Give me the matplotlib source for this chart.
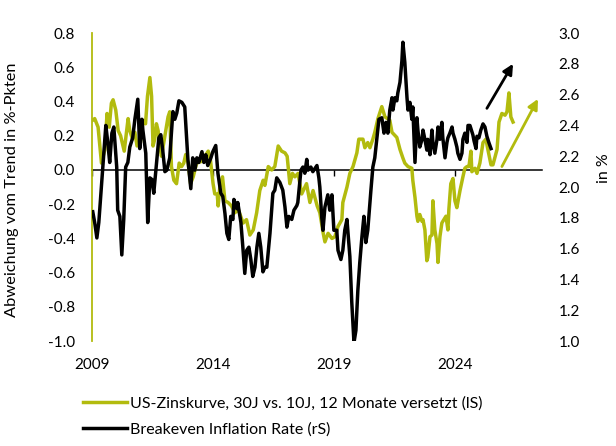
import matplotlib
matplotlib.use('Agg')
import matplotlib.pyplot as plt
from matplotlib.ticker import FormatStrFormatter

plt.rcParams['font.family'] = ['Lato', 'DejaVu Sans']

GREEN = '#B2BB0E'

# --- data ---------------------------------------------------------------
green_label = 'US-Zinskurve, 30J vs. 10J, 12 Monate versetzt (lS)'
black_label = 'Breakeven Inflation Rate (rS)'

green_dates = [
    2009.03, 2009.12, 2009.26, 2009.40, 2009.54, 2009.63, 2009.72, 2009.81, 2009.88, 2009.99,
    2010.09, 2010.19, 2010.34, 2010.43, 2010.50, 2010.57, 2010.68, 2010.78, 2010.87, 2011.01,
    2011.12, 2011.22, 2011.30, 2011.40, 2011.47, 2011.53, 2011.60, 2011.67, 2011.74, 2011.81,
    2011.88, 2012.02, 2012.15, 2012.22, 2012.29, 2012.39, 2012.50, 2012.61, 2012.71, 2012.80,
    2012.88, 2012.98, 2013.08, 2013.19, 2013.33, 2013.53, 2013.67, 2013.81, 2013.90, 2014.01,
    2014.08, 2014.18, 2014.22, 2014.29, 2014.40, 2014.50, 2014.63, 2014.77, 2014.91, 2015.05,
    2015.25, 2015.39, 2015.53, 2015.67, 2015.81, 2015.94, 2016.08, 2016.15, 2016.29, 2016.43,
    2016.56, 2016.70, 2016.84, 2016.98, 2017.07, 2017.18, 2017.29, 2017.39, 2017.52, 2017.67,
    2017.87, 2018.01, 2018.14, 2018.31, 2018.42, 2018.56, 2018.63, 2018.76, 2018.92, 2019.04,
    2019.17, 2019.33, 2019.37, 2019.54, 2019.66, 2019.79, 2019.95, 2020.03, 2020.20, 2020.28,
    2020.40, 2020.49, 2020.61, 2020.69, 2020.82, 2020.98, 2021.11, 2021.31, 2021.40, 2021.60,
    2021.73, 2021.85, 2021.93, 2022.06, 2022.22, 2022.26, 2022.35, 2022.43, 2022.47, 2022.55,
    2022.64, 2022.68, 2022.76, 2022.84, 2022.88, 2022.97, 2023.05, 2023.09, 2023.17, 2023.26,
    2023.30, 2023.38, 2023.46, 2023.50, 2023.63, 2023.71, 2023.75, 2023.83, 2023.92, 2024.00,
    2024.08, 2024.21, 2024.33, 2024.41, 2024.50, 2024.58, 2024.66, 2024.70, 2024.83, 2024.91,
    2025.03, 2025.16, 2025.28, 2025.36, 2025.49, 2025.57, 2025.74, 2025.82, 2025.94, 2026.07,
    2026.15, 2026.23, 2026.31, 2026.40,
]
green_values = [
    0.29, 0.30, 0.25, 0.04, 0.12, 0.33, 0.25, 0.39, 0.41, 0.35,
    0.23, 0.20, 0.11, 0.22, 0.30, 0.23, 0.18, 0.22, 0.14, 0.16,
    0.29, 0.27, 0.43, 0.54, 0.43, 0.14, 0.18, 0.27, 0.23, 0.14,
    0.08, 0.20, 0.31, 0.34, 0.02, -0.06, -0.08, 0.04, 0.02, 0.04,
    0.09, 0.04, -0.08, -0.04, 0.04, 0.05, 0.08, 0.11, 0.06, -0.08,
    -0.14, -0.14, -0.21, -0.10, -0.04, -0.18, -0.19, -0.21, -0.25, -0.23,
    -0.31, -0.29, -0.38, -0.35, -0.25, -0.12, -0.06, -0.09, 0.02, 0.00,
    0.02, 0.14, 0.11, 0.10, 0.08, -0.08, -0.02, -0.04, -0.02, -0.14,
    -0.08, -0.19, -0.12, -0.21, -0.25, -0.37, -0.42, -0.37, -0.40, -0.39,
    -0.33, -0.29, -0.19, -0.10, -0.02, 0.02, 0.10, 0.18, 0.18, 0.13,
    0.16, 0.13, 0.18, 0.22, 0.30, 0.37, 0.31, 0.29, 0.22, 0.19,
    0.12, 0.07, 0.04, 0.02, 0.01, -0.06, -0.16, -0.27, -0.30, -0.26,
    -0.30, -0.29, -0.35, -0.53, -0.51, -0.39, -0.38, -0.18, -0.35, -0.43,
    -0.54, -0.39, -0.31, -0.30, -0.27, -0.35, -0.23, -0.08, -0.05, -0.18,
    -0.22, -0.12, -0.04, 0.01, 0.02, 0.02, 0.11, -0.01, 0.01, -0.02,
    0.04, 0.16, 0.18, 0.12, 0.03, 0.03, 0.12, 0.28, 0.33, 0.32,
    0.34, 0.45, 0.31, 0.28,
]

black_dates = [
    2009.04, 2009.12, 2009.21, 2009.29, 2009.41, 2009.50, 2009.58, 2009.66, 2009.74, 2009.83,
    2009.91, 2010.03, 2010.07, 2010.16, 2010.24, 2010.32, 2010.40, 2010.49, 2010.57, 2010.69,
    2010.78, 2010.90, 2010.98, 2011.07, 2011.11, 2011.23, 2011.31, 2011.40, 2011.48, 2011.56,
    2011.69, 2011.77, 2011.85, 2011.93, 2012.02, 2012.10, 2012.22, 2012.35, 2012.43, 2012.51,
    2012.60, 2012.72, 2012.84, 2012.97, 2013.09, 2013.17, 2013.26, 2013.34, 2013.42, 2013.55,
    2013.63, 2013.71, 2013.79, 2013.92, 2014.00, 2014.12, 2014.21, 2014.33, 2014.41, 2014.50,
    2014.58, 2014.66, 2014.74, 2014.83, 2014.87, 2014.99, 2015.03, 2015.16, 2015.24, 2015.32,
    2015.40, 2015.49, 2015.57, 2015.65, 2015.74, 2015.82, 2015.90, 2015.98, 2016.07, 2016.15,
    2016.23, 2016.36, 2016.48, 2016.56, 2016.64, 2016.77, 2016.89, 2016.98, 2017.06, 2017.14,
    2017.26, 2017.35, 2017.47, 2017.51, 2017.64, 2017.72, 2017.80, 2017.88, 2017.93, 2018.05,
    2018.13, 2018.30, 2018.38, 2018.42, 2018.50, 2018.55, 2018.63, 2018.75, 2018.83, 2018.92,
    2019.00, 2019.12, 2019.17, 2019.29, 2019.37, 2019.45, 2019.54, 2019.66, 2019.74, 2019.83,
    2019.91, 2019.99, 2020.07, 2020.16, 2020.24, 2020.32, 2020.40, 2020.53, 2020.61, 2020.69,
    2020.78, 2020.86, 2020.98, 2021.07, 2021.15, 2021.23, 2021.31, 2021.40, 2021.44, 2021.52,
    2021.60, 2021.64, 2021.73, 2021.81, 2021.85, 2021.93, 2022.02, 2022.06, 2022.14, 2022.22,
    2022.26, 2022.35, 2022.43, 2022.47, 2022.55, 2022.64, 2022.68, 2022.76, 2022.84, 2022.88,
    2022.97, 2023.05, 2023.09, 2023.17, 2023.26, 2023.30, 2023.38, 2023.46, 2023.50, 2023.59,
    2023.67, 2023.71, 2023.79, 2023.88, 2023.92, 2024.00, 2024.08, 2024.12, 2024.21, 2024.29,
    2024.33, 2024.41, 2024.50, 2024.54, 2024.62, 2024.74, 2024.79, 2024.87, 2024.91, 2024.99,
    2025.07, 2025.16, 2025.24, 2025.32, 2025.40, 2025.49,
]
black_values = [
    1.84, 1.77, 1.67, 1.77, 2.03, 2.22, 2.40, 2.29, 2.16, 2.35,
    2.39, 2.13, 1.85, 1.81, 1.56, 1.79, 2.13, 2.16, 2.26, 2.32,
    2.44, 2.57, 2.25, 2.44, 2.37, 2.22, 1.77, 2.06, 2.05, 1.96,
    2.18, 2.32, 2.34, 2.24, 2.10, 2.11, 2.19, 2.49, 2.44, 2.48,
    2.56, 2.55, 2.52, 2.18, 1.99, 2.19, 2.11, 2.19, 2.16, 2.23,
    2.16, 2.21, 2.14, 2.19, 2.23, 2.27, 2.09, 1.96, 1.94, 1.83,
    1.70, 1.66, 1.81, 1.79, 1.92, 1.86, 1.90, 1.77, 1.61, 1.44,
    1.59, 1.61, 1.53, 1.42, 1.48, 1.61, 1.70, 1.61, 1.45, 1.48,
    1.48, 1.70, 1.96, 1.98, 2.06, 2.03, 1.98, 1.87, 1.74, 1.81,
    1.79, 1.85, 1.88, 1.90, 2.11, 2.13, 2.09, 2.18, 2.11, 2.13,
    2.10, 2.14, 2.06, 2.00, 1.80, 1.72, 1.87, 1.95, 1.85, 1.95,
    1.72, 1.72, 1.59, 1.53, 1.59, 1.72, 1.79, 1.55, 1.25, 0.99,
    1.07, 1.33, 1.51, 1.68, 1.81, 1.64, 1.72, 1.98, 2.13, 2.19,
    2.32, 2.44, 2.45, 2.35, 2.42, 2.35, 2.50, 2.58, 2.50, 2.58,
    2.56, 2.61, 2.68, 2.82, 2.94, 2.81, 2.58, 2.50, 2.55, 2.44,
    2.52, 2.16, 2.45, 2.37, 2.26, 2.31, 2.37, 2.31, 2.24, 2.31,
    2.21, 2.37, 2.29, 2.22, 2.31, 2.39, 2.31, 2.42, 2.32, 2.19,
    2.29, 2.32, 2.35, 2.39, 2.35, 2.31, 2.26, 2.22, 2.18, 2.22,
    2.31, 2.35, 2.29, 2.40, 2.40, 2.34, 2.30, 2.25, 2.33, 2.32,
    2.37, 2.41, 2.39, 2.33, 2.29, 2.25,
]

year_ticks = [2009, 2014, 2019, 2024]
left_ticks = [-1.0, -0.8, -0.6, -0.4, -0.2, 0.0, 0.2, 0.4, 0.6, 0.8]
right_ticks = [1.0, 1.2, 1.4, 1.6, 1.8, 2.0, 2.2, 2.4, 2.6, 2.8, 3.0]

# arrows (annotation start/end, in left-axis data units)
black_arrow = ((2025.32, 0.36), (2026.40, 0.62))
green_arrow = ((2025.94, 0.02), (2027.43, 0.415))

# --- figure -------------------------------------------------------------
fig = plt.figure(figsize=(6.16, 4.46), dpi=100)
ax = fig.add_axes([0.149, 0.235, 0.731, 0.691])
ax2 = ax.twinx()

l1, = ax.plot(green_dates, green_values, color=GREEN, lw=2.5, solid_joinstyle='round')
l2, = ax2.plot(black_dates, black_values, color='black', lw=2.5, solid_joinstyle='round')

ax.set_xlim(2009.0, 2027.6)
ax.set_ylim(-1.0, 0.8)
ax2.set_ylim(1.0, 3.0)

# spines
for s in ['top', 'right']:
    ax.spines[s].set_visible(False)
for s in ax2.spines.values():
    s.set_visible(False)
ax.spines['left'].set_color(GREEN)
ax.spines['left'].set_linewidth(1.3)
ax.spines['bottom'].set_position(('data', 0))
ax.spines['bottom'].set_linewidth(1.1)
ax.spines['bottom'].set_zorder(0.5)

# x ticks on zero line, labels at the bottom
ax.set_xticks(year_ticks)
ax.tick_params(axis='x', direction='out', length=4, width=1.0, labelbottom=False)
sec = ax.secondary_xaxis('bottom')
sec.set_xticks(year_ticks)
sec.set_xticklabels([str(y) for y in year_ticks])
sec.tick_params(length=0, pad=12, labelsize=11)
sec.spines['bottom'].set_visible(False)

ax.set_yticks(left_ticks)
ax.yaxis.set_major_formatter(FormatStrFormatter('%.1f'))
ax.tick_params(axis='y', length=0, pad=12, labelsize=11)
ax2.set_yticks(right_ticks)
ax2.yaxis.set_major_formatter(FormatStrFormatter('%.1f'))
ax2.tick_params(axis='y', length=0, pad=12, labelsize=11)

ax.set_ylabel('Abweichung vom Trend in %-Pkten', fontsize=11.8)
ax.yaxis.set_label_coords(-0.162, 0.49)
ax2.set_ylabel('in %', fontsize=11.5)
ax2.yaxis.set_label_coords(1.122, 0.56)

# arrows
ax.annotate('', xy=black_arrow[1], xytext=black_arrow[0],
            arrowprops=dict(arrowstyle='-|>', color='black', lw=2.0, mutation_scale=15,
                            shrinkA=0, shrinkB=0), zorder=5)
ax.annotate('', xy=green_arrow[1], xytext=green_arrow[0],
            arrowprops=dict(arrowstyle='-|>', color=GREEN, lw=2.0, mutation_scale=15,
                            shrinkA=0, shrinkB=0), zorder=5)

fig.legend([l1, l2], [green_label, black_label], loc='upper left',
           bbox_to_anchor=(0.134, 0.112), frameon=False, fontsize=11.5,
           handlelength=2.8, handletextpad=0.2, labelspacing=0.75,
           borderaxespad=0, borderpad=0)

fig.savefig('out.png', dpi=100)
